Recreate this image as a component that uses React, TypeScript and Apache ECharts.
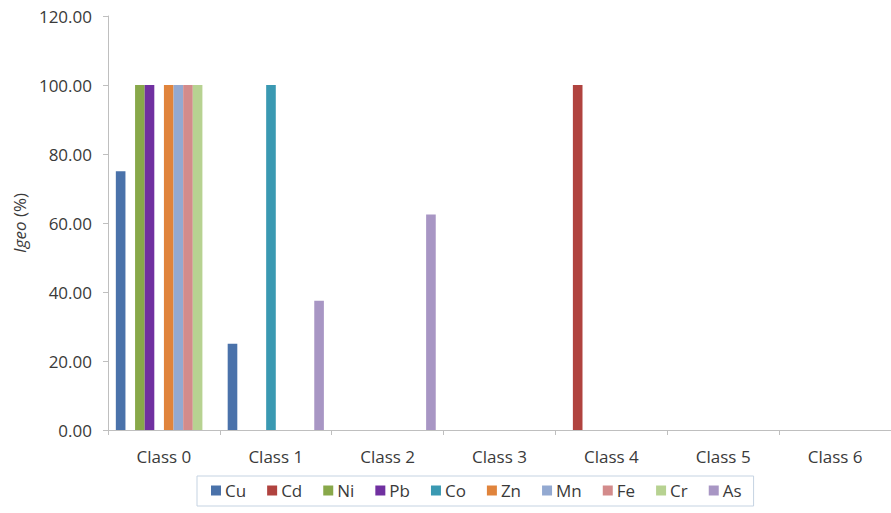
import React, { useEffect, useRef } from "react";
import * as echarts from "echarts";

const categories = ["Class 0", "Class 1", "Class 2", "Class 3", "Class 4", "Class 5", "Class 6"];
const seriesNames = ["Cu", "Cd", "Ni", "Pb", "Co", "Zn", "Mn", "Fe", "Cr", "As"];
const cu = [75, 25, 0, 0, 0, 0, 0];
const cd = [0, 0, 0, 0, 100, 0, 0];
const ni = [100, 0, 0, 0, 0, 0, 0];
const pb = [100, 0, 0, 0, 0, 0, 0];
const co = [0, 100, 0, 0, 0, 0, 0];
const zn = [100, 0, 0, 0, 0, 0, 0];
const mn = [100, 0, 0, 0, 0, 0, 0];
const fe = [100, 0, 0, 0, 0, 0, 0];
const cr = [100, 0, 0, 0, 0, 0, 0];
const as = [0, 37.5, 62.5, 0, 0, 0, 0];
const seriesValues = [cu, cd, ni, pb, co, zn, mn, fe, cr, as];
const colors = ["#4a72aa", "#b0433f", "#88a84a", "#7030a0", "#3a99b2", "#e0843c", "#93a9d1", "#d38b8b", "#b7d291", "#a896c4"];

const FONT = "Open Sans";
const TXT = "#3a3a3a";

export default function App() {
  const ref = useRef<HTMLDivElement>(null);
  useEffect(() => {
    if (!ref.current) return;
    const chart = echarts.init(ref.current, null, { renderer: "svg" });
    chart.setOption({
      animation: false,
      backgroundColor: "#ffffff",
      color: colors,
      grid: { left: 108, top: 16, width: 786, height: 414, containLabel: false },
      legend: {
        left: 197,
        top: 476,
        padding: [6, 12, 7, 14],
        borderColor: "#c5d3e2",
        borderWidth: 1,
        itemWidth: 10,
        itemHeight: 10,
        itemGap: 21,
        icon: "rect",
        textStyle: { fontFamily: FONT, fontSize: 17, color: TXT, padding: [0, 0, 0, -1] },
        data: seriesNames,
      },
      xAxis: {
        type: "category",
        data: categories,
        axisLine: { lineStyle: { color: "#bfbfbf", width: 1 } },
        axisTick: { show: true, alignWithLabel: false, length: 5, lineStyle: { color: "#bfbfbf" } },
        axisLabel: { fontFamily: FONT, fontSize: 17, color: TXT, margin: 18 },
        splitLine: { show: false },
      },
      yAxis: {
        type: "value",
        min: 0,
        max: 120,
        interval: 20,
        name: "{i|Igeo} (%)",
        nameLocation: "middle",
        nameGap: 66,
        nameRotate: 90,
        nameTextStyle: {
          fontFamily: FONT,
          fontSize: 17,
          color: TXT,
          rich: { i: { fontFamily: FONT, fontSize: 17, fontStyle: "italic", color: TXT } },
        },
        axisLine: { show: true, lineStyle: { color: "#bfbfbf", width: 1 } },
        axisTick: { show: true, length: 5, lineStyle: { color: "#bfbfbf" } },
        axisLabel: {
          fontFamily: FONT,
          fontSize: 17,
          color: TXT,
          margin: 16,
          formatter: (v: number) => v.toFixed(2),
        },
        splitLine: { show: false },
      },
      series: seriesNames.map((name, i) => ({
        name,
        type: "bar",
        data: seriesValues[i],
        barGap: "0%",
        barCategoryGap: "14%",
        itemStyle: { color: colors[i] },
      })),
    });
    return () => chart.dispose();
  }, []);
  return <div ref={ref} style={{ width: 891, height: 513, position: "absolute", left: 0, top: 0 }} />;
}
